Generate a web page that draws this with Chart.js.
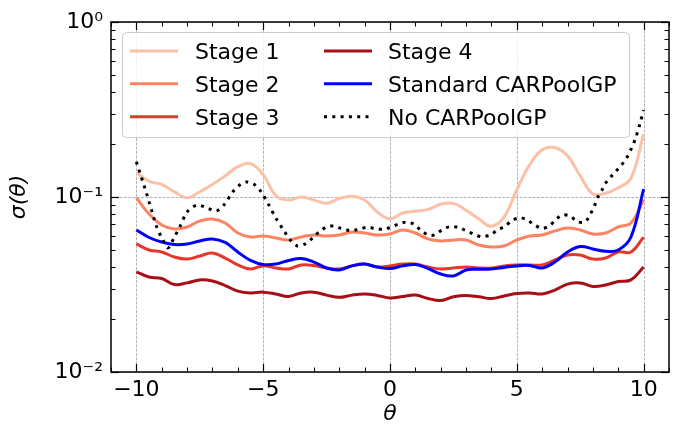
<!DOCTYPE html>
<html><head><meta charset="utf-8">
<script src="https://cdn.jsdelivr.net/npm/chart.js@4/dist/chart.umd.min.js"></script>
<style>html,body{margin:0;padding:0;background:#fff;}</style>
</head><body>
<canvas id="c" width="680" height="427"></canvas>
<script>
// ---- data ----
const theta = [-10,-9.5,-9,-8.5,-8,-7.5,-7,-6.5,-6,-5.5,-5,-4.5,-4,-3.5,-3,-2.5,-2,-1.5,-1,-0.5,0,0.5,1,1.5,2,2.5,3,3.5,4,4.5,5,5.5,6,6.5,7,7.5,8,8.5,9,9.5,10];
const stage1 = [0.138,0.123,0.118,0.107,0.099,0.107,0.118,0.132,0.149,0.155,0.134,0.102,0.096,0.100,0.096,0.092,0.098,0.101,0.096,0.082,0.075,0.081,0.083,0.085,0.091,0.092,0.084,0.075,0.068,0.077,0.110,0.152,0.186,0.192,0.172,0.132,0.104,0.105,0.113,0.128,0.229];
const stage2 = [0.099,0.080,0.0692,0.0656,0.0674,0.0729,0.0748,0.071,0.0623,0.0591,0.0599,0.0583,0.0568,0.0591,0.0607,0.0599,0.0607,0.0631,0.0623,0.0607,0.0615,0.0648,0.0623,0.0576,0.0561,0.0568,0.0568,0.0532,0.0518,0.0525,0.0568,0.0599,0.0607,0.064,0.0665,0.0648,0.0615,0.0623,0.0674,0.071,0.0962];
const stage3 = [0.0539,0.0498,0.0485,0.0454,0.0442,0.046,0.0479,0.0448,0.0409,0.0388,0.0404,0.0393,0.0388,0.0409,0.0406,0.0393,0.0388,0.0404,0.0414,0.0398,0.0404,0.0414,0.0414,0.0398,0.0388,0.0393,0.0398,0.0393,0.0393,0.0404,0.0409,0.0409,0.0409,0.0437,0.0466,0.0466,0.0442,0.0448,0.0485,0.0485,0.059];
const stage4 = [0.0373,0.0349,0.0342,0.0316,0.0323,0.0336,0.0331,0.0312,0.029,0.0283,0.0286,0.0279,0.027,0.0283,0.0286,0.0275,0.0267,0.0275,0.0279,0.0274,0.0265,0.027,0.0275,0.0263,0.0256,0.0269,0.0274,0.0269,0.0263,0.0272,0.0281,0.0283,0.0279,0.0294,0.0318,0.0323,0.0308,0.0314,0.0329,0.0336,0.0398];
const standardGP = [0.0648,0.0587,0.0553,0.0535,0.0539,0.0561,0.0576,0.055,0.0485,0.0434,0.0411,0.0414,0.0434,0.0445,0.0425,0.0393,0.0383,0.0404,0.0414,0.0398,0.039,0.0404,0.0411,0.039,0.0363,0.0354,0.0383,0.0386,0.0388,0.0396,0.0404,0.0406,0.0393,0.0425,0.0485,0.0521,0.0505,0.049,0.0498,0.0591,0.111];
const thetaNoGP = [-10,-9.6,-9.2,-8.95,-8.75,-8.5,-8.25,-8,-7.6,-7.2,-6.85,-6.55,-6.2,-5.9,-5.65,-5.35,-5.1,-4.8,-4.5,-4.2,-3.9,-3.65,-3.35,-3.05,-2.8,-2.5,-2.2,-1.9,-1.55,-1.25,-0.9,-0.6,-0.25,0.05,0.35,0.65,0.95,1.2,1.5,1.75,2.05,2.35,2.7,3,3.3,3.6,3.95,4.2,4.55,4.8,5.1,5.4,5.7,6,6.3,6.55,6.8,7.1,7.4,7.7,7.9,8.05,8.2,8.35,8.5,8.7,8.9,9.12,9.32,9.5,9.68,9.84,10];
const noGP = [0.159,0.105,0.0677,0.0568,0.0512,0.0591,0.0692,0.0821,0.0899,0.0865,0.0832,0.0899,0.107,0.118,0.122,0.118,0.108,0.0912,0.0759,0.0648,0.0561,0.0525,0.0539,0.0583,0.0631,0.0674,0.0683,0.0659,0.0642,0.0652,0.0671,0.0662,0.0652,0.0674,0.0701,0.0719,0.0699,0.0648,0.0607,0.0607,0.0648,0.0676,0.0671,0.0642,0.0615,0.0593,0.0607,0.0642,0.0683,0.0732,0.0762,0.074,0.0692,0.0662,0.0687,0.0746,0.0789,0.0778,0.0722,0.0722,0.08,0.088,0.1,0.109,0.12,0.13,0.14,0.152,0.166,0.187,0.216,0.258,0.314];
const seriesLabels = ['Stage 1','Stage 2','Stage 3','Stage 4','Standard CARPoolGP','No CARPoolGP'];
const xTicks = [-10,-5,0,5,10];
const xMinorTicks = [-11,-9,-8,-7,-6,-4,-3,-2,-1,1,2,3,4,6,7,8,9,11];
const yTicks = [0.01,0.1,1];
const yTickLabels = ['10\u207B\u00B2','10\u207B\u00B9','10\u2070'];
const yMinorMant = [2,3,4,5,6,7,8,9];
const yMinorExp = [-2,-1];

const pts = (xs, ys) => xs.map((v,i)=>({x:v, y:ys[i]}));
const FONT = '"DejaVu Sans", sans-serif';
Chart.defaults.font.family = FONT;

const frameTicks = {
  id:'frameTicks',
  beforeDatasetsDraw(chart){
    const {ctx, chartArea:a, scales:{x,y}} = chart;
    ctx.save();
    ctx.strokeStyle='rgba(150,150,150,0.9)'; ctx.lineWidth=0.8; ctx.setLineDash([3,1.3]);
    xTicks.forEach(v=>{const p=Math.round(x.getPixelForValue(v))+0.5; ctx.beginPath(); ctx.moveTo(p,a.top); ctx.lineTo(p,a.bottom); ctx.stroke();});
    yTicks.forEach(v=>{const p=Math.round(y.getPixelForValue(v))+0.5; ctx.beginPath(); ctx.moveTo(a.left,p); ctx.lineTo(a.right,p); ctx.stroke();});
    ctx.restore();
  },
  afterDatasetsDraw(chart){
    const {ctx, chartArea:a, scales:{x,y}} = chart;
    ctx.save();
    ctx.strokeStyle='#000'; ctx.setLineDash([]);
    const tick=(x1,y1,x2,y2,w)=>{ctx.lineWidth=w; ctx.beginPath(); ctx.moveTo(x1,y1); ctx.lineTo(x2,y2); ctx.stroke();};
    xTicks.forEach(v=>{const p=Math.round(x.getPixelForValue(v))+0.5; tick(p,a.bottom,p,a.bottom-8,1.2); tick(p,a.top,p,a.top+8,1.2);});
    xMinorTicks.forEach(v=>{const p=Math.round(x.getPixelForValue(v))+0.5; tick(p,a.bottom,p,a.bottom-4.5,1); tick(p,a.top,p,a.top+4.5,1);});
    yTicks.forEach(v=>{const p=Math.round(y.getPixelForValue(v))+0.5; tick(a.left,p,a.left+8,p,1.2); tick(a.right,p,a.right-8,p,1.2);});
    yMinorExp.forEach(e=>yMinorMant.forEach(m=>{const p=Math.round(y.getPixelForValue(m*Math.pow(10,e)))+0.5; tick(a.left,p,a.left+4.5,p,1); tick(a.right,p,a.right-4.5,p,1);}));
    ctx.lineWidth=1.5; ctx.strokeRect(a.left, a.top, a.right-a.left, a.bottom-a.top);
    ctx.restore();
  },
  afterDraw(chart){
    const ctx=chart.ctx;
    ctx.save();
    ctx.beginPath(); ctx.roundRect(122.5,32.5,507,105,4);
    ctx.fillStyle='rgba(255,255,255,0.8)'; ctx.fill();
    ctx.strokeStyle='#cccccc'; ctx.lineWidth=1; ctx.stroke();
    const cols=[{lx:130,tx:195},{lx:324,tx:388}];
    const rows=[51,83.8,116.7];
    chart.data.datasets.forEach((d,i)=>{
      const c=cols[Math.floor(i/3)], yy=rows[i%3];
      ctx.beginPath(); ctx.setLineDash(d.borderDash||[]); ctx.lineWidth=d.borderWidth; ctx.strokeStyle=d.borderColor; ctx.lineCap='butt';
      ctx.moveTo(c.lx,yy); ctx.lineTo(c.lx+48,yy); ctx.stroke();
      ctx.setLineDash([]); ctx.fillStyle='#000'; ctx.font='22px '+FONT; ctx.textBaseline='alphabetic';
      ctx.fillText(d.label,c.tx,yy+8.3);
    });
    ctx.restore();
  }
};

const mk = (label, data, color, order, extra) => Object.assign({
  label, data, borderColor:color, backgroundColor:color, borderWidth:3, pointRadius:0,
  tension:0.4, fill:false, order
}, extra||{});

new Chart(document.getElementById('c'), {
  type:'line',
  data:{ datasets:[
    mk(seriesLabels[0], pts(theta,stage1), '#fcc0a6', 6),
    mk(seriesLabels[1], pts(theta,stage2), '#fb8464', 5),
    mk(seriesLabels[2], pts(theta,stage3), '#e6372b', 4),
    mk(seriesLabels[3], pts(theta,stage4), '#a50f15', 3),
    mk(seriesLabels[4], pts(theta,standardGP), '#0000ff', 2),
    mk(seriesLabels[5], pts(thetaNoGP,noGP), '#000000', 1, {borderDash:[3,5.3], tension:0.3})
  ]},
  options:{
    responsive:false, animation:false, devicePixelRatio:1,
    layout:{padding:{left:0,right:11,top:22,bottom:0}},
    plugins:{legend:{display:false}, tooltip:{enabled:false}},
    scales:{
      x:{type:'linear', min:-11, max:11,
        afterBuildTicks:s=>{s.ticks=xTicks.map(v=>({value:v}));},
        afterFit:s=>{s.height=55;},
        grid:{display:false, drawTicks:false}, border:{display:false},
        ticks:{font:{size:22,family:FONT}, color:'#000', padding:5, maxRotation:0, autoSkip:false,
          callback:v=> v<0 ? '\u2212'+Math.abs(v) : String(v)},
        title:{display:true, text:'\u03B8', color:'#000', font:{size:22, style:'italic', family:FONT}, padding:{top:0,bottom:0}}
      },
      y:{type:'logarithmic', min:0.01, max:1,
        afterBuildTicks:s=>{s.ticks=yTicks.map(v=>({value:v}));},
        afterFit:s=>{s.width=111;},
        grid:{display:false, drawTicks:false}, border:{display:false},
        ticks:{font:{size:22,family:FONT}, color:'#000', padding:8, autoSkip:false,
          callback:(v,i)=> yTickLabels[i]},
        title:{display:true, text:'\u03C3(\u03B8)', color:'#000', font:{size:22, style:'italic', family:FONT}, padding:{top:6,bottom:0}}
      }
    }
  },
  plugins:[frameTicks]
});
</script>
</body></html>
